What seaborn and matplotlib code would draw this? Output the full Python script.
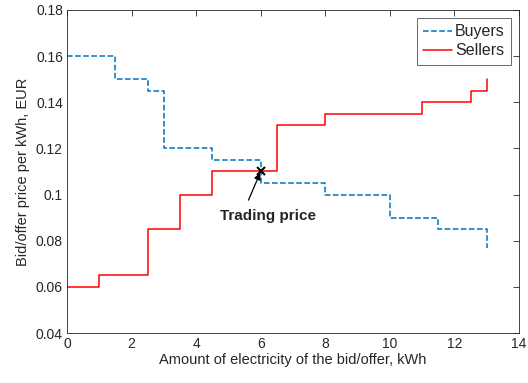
import pandas as pd
import matplotlib
matplotlib.use('Agg')
import matplotlib.pyplot as plt
import seaborn as sns

# du lieu doc tu hinh
buyer_kwh = [0, 1.5, 2.5, 3, 4.5, 6, 8, 10, 11.5, 13]
buyer_price = [0.16, 0.15, 0.145, 0.12, 0.115, 0.105, 0.1, 0.09, 0.085, 0.077]
seller_kwh = [0, 1, 2.5, 3.5, 4.5, 6.5, 8, 11, 12.5, 13]
seller_price = [0.06, 0.065, 0.085, 0.1, 0.11, 0.13, 0.135, 0.14, 0.145, 0.15]
trade_kwh = 6
trade_price = 0.11
x_ticks = list(range(0, 15, 2))
y_ticks = [0.04, 0.06, 0.08, 0.1, 0.12, 0.14, 0.16, 0.18]
y_labels = ['0.04', '0.06', '0.08', '0.1', '0.12', '0.14', '0.16', '0.18']

sns.set_style('white')
plt.rcParams['font.family'] = ['Liberation Sans', 'DejaVu Sans']
plt.rcParams['font.size'] = 10

df_b = pd.DataFrame({'kwh': buyer_kwh, 'price': buyer_price})
df_s = pd.DataFrame({'kwh': seller_kwh, 'price': seller_price})

fig = plt.figure(figsize=(5.28, 3.83), dpi=100)
ax = fig.add_axes([0.127, 0.1305, 0.856, 0.8435])

sns.lineplot(data=df_b, x='kwh', y='price', ax=ax, sort=False,
             drawstyle='steps-post', color='#0072BD', linestyle='--',
             linewidth=1.1, label='Buyers')
sns.lineplot(data=df_s, x='kwh', y='price', ax=ax, sort=False,
             drawstyle='steps-post', color='#FF0000', linestyle='-',
             linewidth=1.1, label='Sellers')

ax.plot([trade_kwh], [trade_price], marker='x', color='black',
        markersize=6, markeredgewidth=1.5, linestyle='none')
# mui ten + chu
ax.annotate('', xy=(trade_kwh, trade_price), xytext=(5.62, 0.0976),
            arrowprops=dict(arrowstyle='-|>', color='black', lw=0.9,
                            shrinkA=0, shrinkB=1, mutation_scale=10))
ax.text(6.21, 0.0905, 'Trading price', ha='center', va='center',
        fontweight='bold', fontsize=11)

ax.set_xlim(0, 14)
ax.set_ylim(0.04, 0.18)
ax.set_xticks(x_ticks)
ax.set_yticks(y_ticks)
ax.set_yticklabels(y_labels)
ax.tick_params(direction='in', length=4, width=0.6, colors='#262626',
               top=True, right=True, labelsize=10, pad=3)
for s in ax.spines.values():
    s.set_color('#262626')
    s.set_linewidth(0.6)

ax.set_xlabel('Amount of electricity of the bid/offer, kWh', fontsize=10.5,
              color='#262626', labelpad=1)
ax.set_ylabel('Bid/offer price per kWh, EUR', fontsize=10.5,
              color='#262626', labelpad=4)

leg = ax.legend(loc='upper right', frameon=True, fancybox=False,
                edgecolor='#262626', fontsize=11.5, handlelength=1.8,
                handletextpad=0.2, borderpad=0.4, labelspacing=0.25,
                borderaxespad=0.5)
leg.get_frame().set_linewidth(0.6)

fig.savefig('out.png', dpi=100)
